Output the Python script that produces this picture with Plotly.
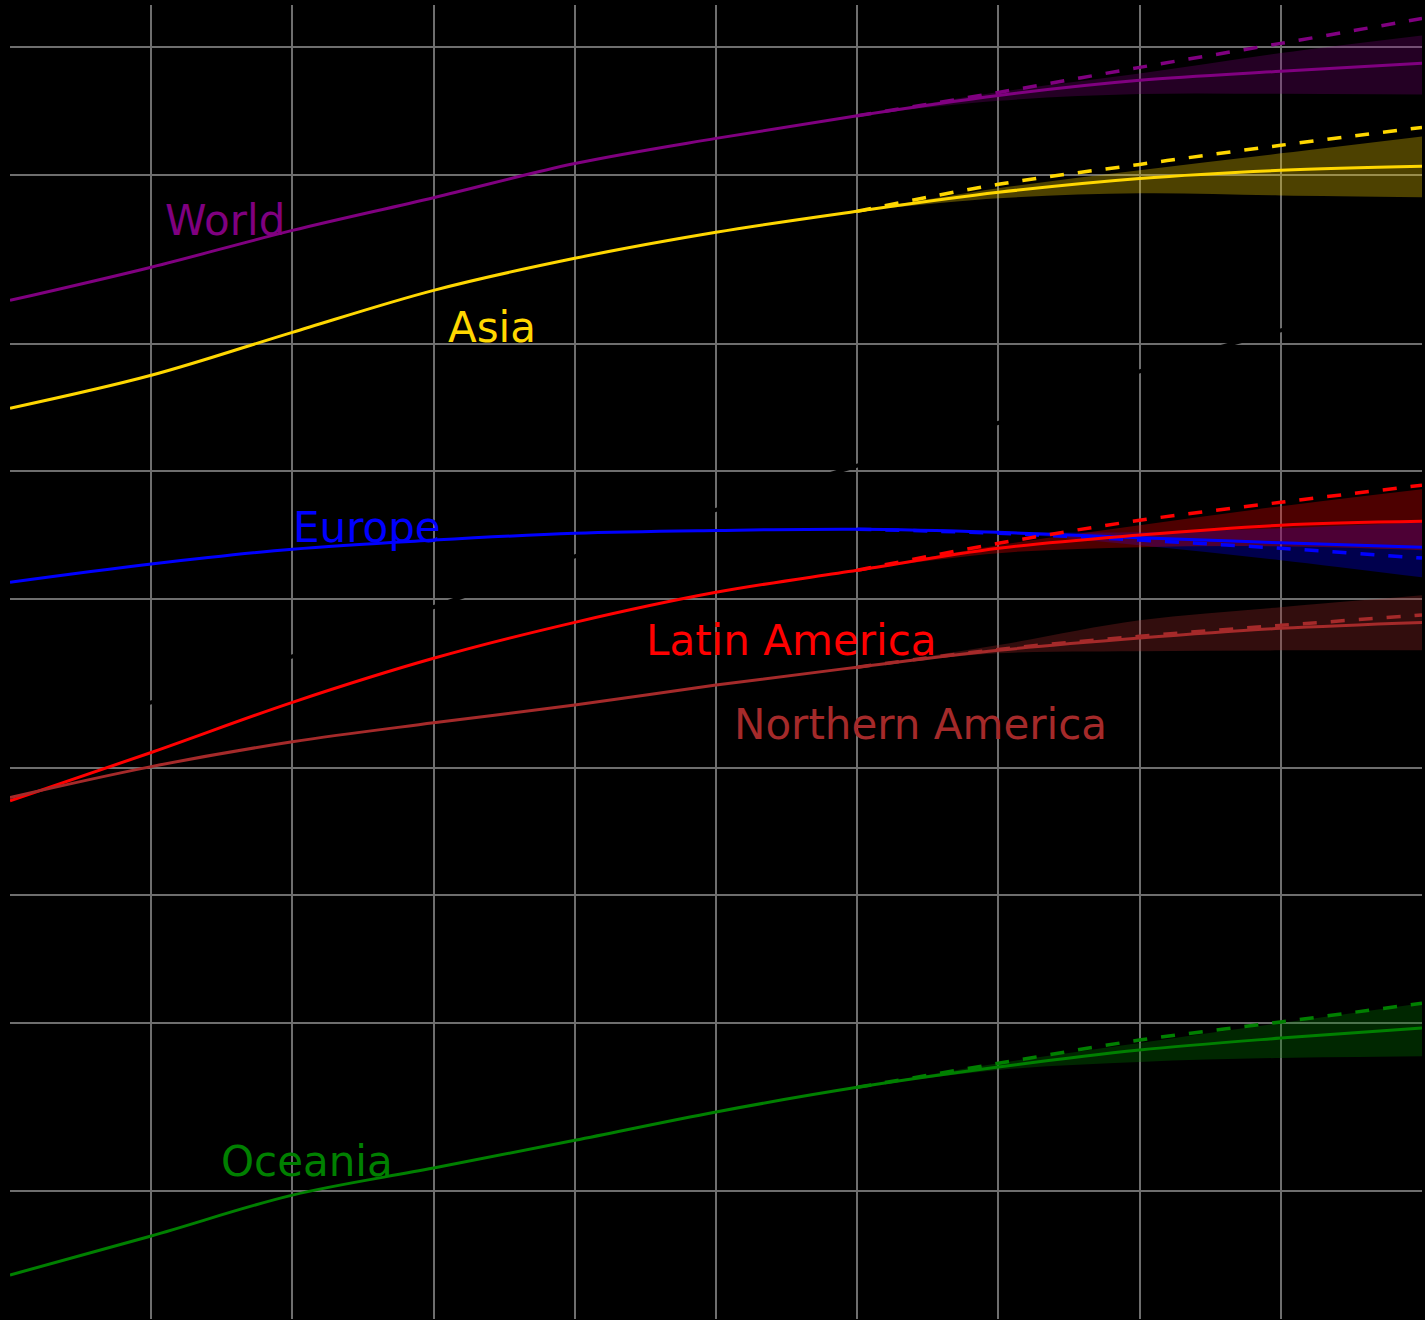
import math
import plotly.graph_objects as go

# Population by region, millions (log scale), historic estimates and projections
years_hist = [1950, 1960, 1970, 1980, 1990, 2000, 2010]
years_proj = [2010, 2020, 2030, 2040, 2050]

world_hist = [2530, 3030, 3700, 4420, 5320, 6100, 6900]
world_med = [6900, 7700, 8360, 8780, 9170]
world_high = [6900, 7830, 8970, 10220, 11700]
world_up = [6900, 7850, 8680, 9700, 10670]
world_lo = [6900, 7480, 7760, 7770, 7740]

asia_hist = [1408, 1684, 2127, 2672, 3180, 3662, 4105]
asia_med = [4105, 4550, 4906, 5129, 5241]
asia_high = [4105, 4753, 5296, 5876, 6475]
asia_up = [4105, 4651, 5129, 5623, 6166]
asia_lo = [4105, 4405, 4527, 4475, 4430]

africa_hist = [228, 285, 366, 478, 630, 811, 1031]
africa_med = [1031, 1300, 1720, 2150, 2600]

europe_hist = [547, 604, 655, 688, 714, 725, 730]
europe_med = [730, 718, 697, 678, 662]
europe_high = [730, 714, 688, 658, 624]
europe_up = [730, 720, 718, 734, 758]
europe_lo = [730, 714, 669, 617, 562]

latam_hist = [167, 217, 285, 362, 440, 518, 584]
latam_med = [584, 658, 707, 746, 762]
latam_high = [584, 676, 766, 845, 927]
latam_up = [584, 669, 746, 827, 907]
latam_lo = [584, 641, 662, 665, 651]

nam_hist = [170, 201, 230, 255, 281, 313, 345]
nam_med = [345, 378, 404, 426, 440]
nam_high = [345, 380, 408, 433, 458]
nam_up = [345, 389, 445, 478, 510]
nam_lo = [345, 372, 376, 378, 378]

oce_hist = [12.7, 15.7, 19.6, 22.7, 26.4, 30.8, 35.2]
oce_med = [35.2, 39.3, 43.1, 46.0, 48.6]
oce_high = [35.2, 40.1, 45.5, 50.2, 55.6]
oce_up = [35.2, 40.1, 44.8, 49.9, 55.6]
oce_lo = [35.2, 38.7, 40.4, 41.3, 41.7]

x_ticks = [1960, 1970, 1980, 1990, 2000, 2010, 2020, 2030, 2040]
y_ticks = [20, 50, 100, 200, 500, 1000, 2000, 5000, 10000]

# (label, colour, band colour, hist, median, alt. variant, upper, lower, label year, label value)
regions = [
    ("World", "#800080", "rgba(128,0,128,0.28)", world_hist, world_med, world_high, world_up, world_lo, 1960.85, 3908),
    ("Asia", "#FFD700", "rgba(255,215,0,0.30)", asia_hist, asia_med, asia_high, asia_up, asia_lo, 1980.85, 2186),
    ("Europe", "#0000FF", "rgba(0,0,255,0.30)", europe_hist, europe_med, europe_high, europe_up, europe_lo, 1969.9, 738),
    ("Latin America", "#FF0000", "rgba(255,0,0,0.30)", latam_hist, latam_med, latam_high, latam_up, latam_lo, 1994.9, 399),
    ("Northern America", "#A52A2A", "rgba(165,42,42,0.30)", nam_hist, nam_med, nam_high, nam_up, nam_lo, 2001.15, 253),
    ("Oceania", "#008000", "rgba(0,128,0,0.30)", oce_hist, oce_med, oce_high, oce_up, oce_lo, 1964.8, 23.5),
]

fig = go.Figure()

# Africa is drawn in black underneath everything else
fig.add_trace(go.Scatter(
    x=years_hist + years_proj[1:], y=africa_hist + africa_med[1:],
    mode="lines", line=dict(color="#000000", width=4, shape="spline"),
    showlegend=False, hoverinfo="skip"))

for name, col, band, hist, med, high, up, lo, lx, ly in regions:
    # uncertainty band: lower edge, then upper edge filled down to it
    fig.add_trace(go.Scatter(
        x=years_proj, y=lo, mode="lines",
        line=dict(width=0, shape="spline"), showlegend=False, hoverinfo="skip"))
    fig.add_trace(go.Scatter(
        x=years_proj, y=up, mode="lines", fill="tonexty", fillcolor=band,
        line=dict(width=0, shape="spline"), showlegend=False, hoverinfo="skip"))

for name, col, band, hist, med, high, up, lo, lx, ly in regions:
    # alternative variant
    fig.add_trace(go.Scatter(
        x=years_proj, y=high, mode="lines",
        line=dict(color=col, width=3.5, dash="14px,14px", shape="spline"),
        showlegend=False, hoverinfo="skip"))
    # estimates + median projection
    fig.add_trace(go.Scatter(
        x=years_hist + years_proj[1:], y=hist + med[1:], mode="lines",
        line=dict(color=col, width=3, shape="spline"),
        name=name, showlegend=False))
    fig.add_annotation(
        x=lx, y=math.log10(ly), text=name, showarrow=False,
        xanchor="left", yanchor="middle",
        font=dict(family="DejaVu Sans", size=42, color=col))

grid = "#6e6e6e"
fig.update_layout(
    template="none",
    width=1425, height=1320,
    margin=dict(l=10, r=3, t=5, b=1),
    paper_bgcolor="#000000", plot_bgcolor="#000000",
    showlegend=False,
    xaxis=dict(range=[1950, 2050], tickvals=x_ticks, showgrid=True,
               gridcolor=grid, gridwidth=2, showticklabels=False,
               zeroline=False, showline=False, ticks=""),
    yaxis=dict(type="log", range=[1, 4.1], tickvals=y_ticks, showgrid=True,
               gridcolor=grid, gridwidth=2, showticklabels=False,
               zeroline=False, showline=False, ticks=""),
)

fig.write_html("out.html")
